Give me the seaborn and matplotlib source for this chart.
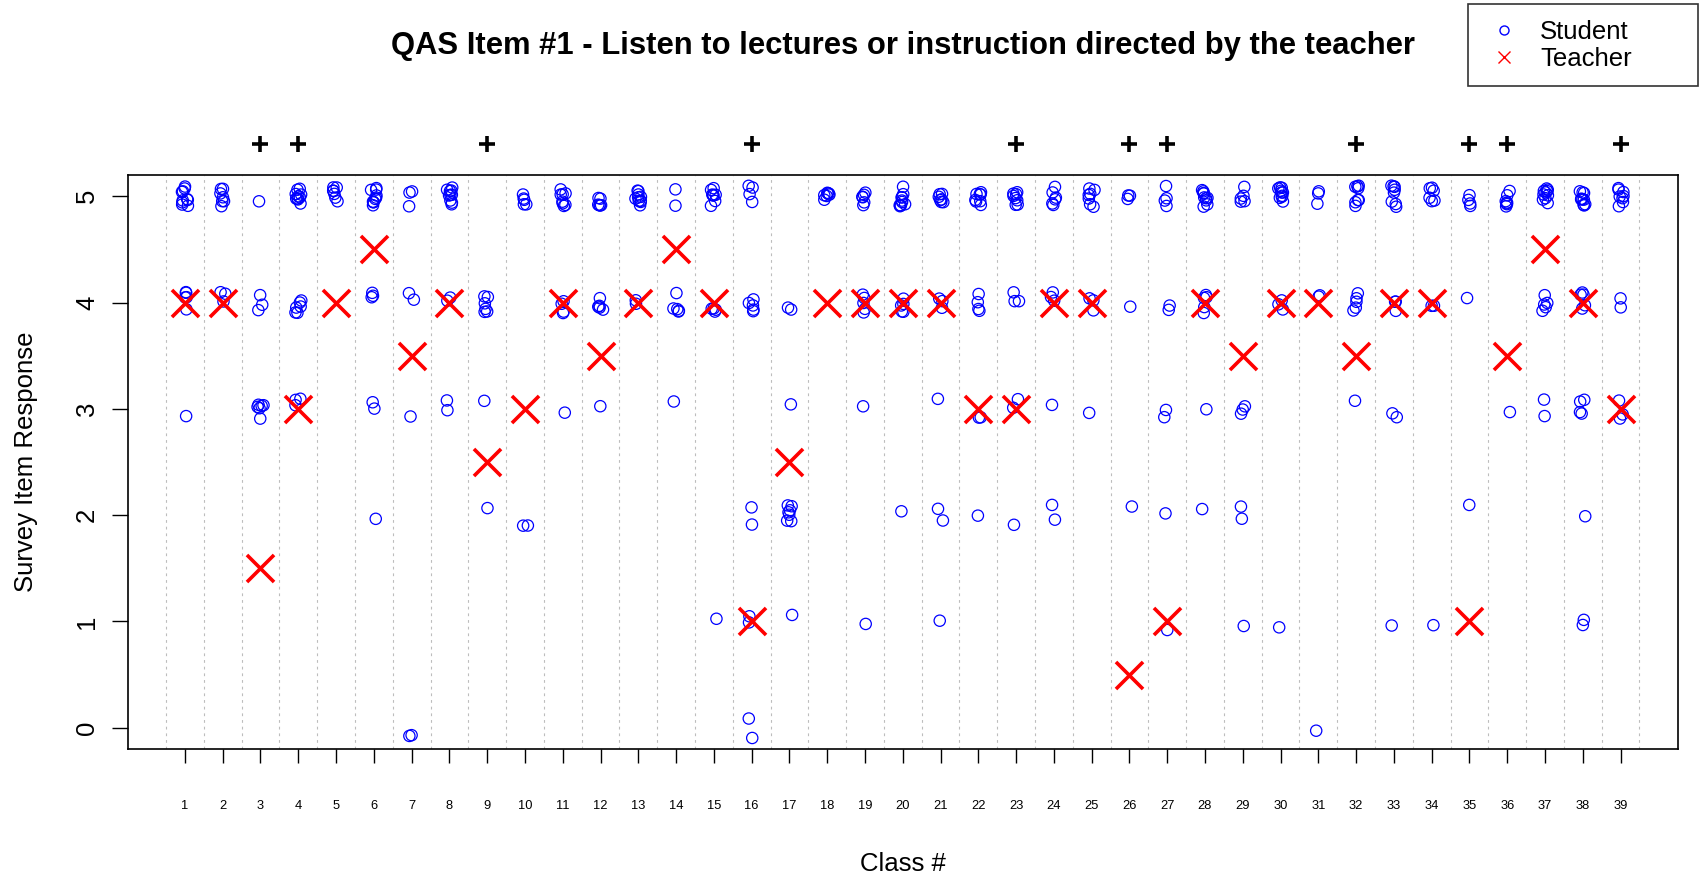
import numpy as np
import pandas as pd
import matplotlib
matplotlib.use("Agg")
import matplotlib.pyplot as plt
from matplotlib.lines import Line2D
import seaborn as sns

# ---- data -------------------------------------------------------------
classes = list(range(1, 40))

# number of students in each class giving each response level (0..5)
resp_0 = [0, 0, 0, 0, 0, 0, 2, 0, 0, 0, 0, 0, 0, 0, 0, 2, 0, 0, 0, 0,
          0, 0, 0, 0, 0, 0, 0, 0, 0, 0, 1, 0, 0, 0, 0, 0, 0, 0, 0]
resp_1 = [0, 0, 0, 0, 0, 0, 0, 0, 0, 0, 0, 0, 0, 0, 1, 2, 1, 0, 1, 0,
          1, 0, 0, 0, 0, 0, 1, 0, 1, 1, 0, 0, 1, 1, 0, 0, 0, 2, 0]
resp_2 = [0, 0, 0, 0, 0, 1, 0, 0, 1, 2, 0, 0, 0, 0, 0, 2, 7, 0, 0, 1,
          2, 1, 1, 2, 0, 1, 1, 1, 2, 0, 0, 0, 0, 0, 1, 0, 0, 1, 0]
resp_3 = [1, 0, 6, 3, 0, 2, 1, 2, 1, 0, 1, 1, 0, 1, 0, 0, 1, 0, 1, 0,
          1, 2, 2, 1, 1, 0, 2, 1, 3, 0, 0, 1, 2, 0, 0, 1, 2, 4, 3]
resp_4 = [5, 3, 3, 6, 0, 3, 2, 2, 6, 0, 4, 5, 2, 5, 4, 5, 2, 0, 5, 5,
          3, 4, 3, 3, 3, 1, 2, 5, 0, 3, 2, 5, 3, 2, 1, 0, 5, 5, 2]
resp_5 = [10, 7, 1, 10, 7, 10, 3, 10, 0, 5, 8, 6, 10, 2, 8, 4, 0, 7, 6, 10,
          7, 8, 8, 6, 7, 3, 4, 10, 5, 10, 3, 8, 8, 6, 4, 7, 10, 10, 8]

# teacher's own rating for each class
teacher_resp = [4, 4, 1.5, 3, 4, 4.5, 3.5, 4, 2.5, 3, 4, 3.5, 4, 4.5, 4, 1, 2.5, 4, 4, 4,
                4, 3, 3, 4, 4, 0.5, 1, 4, 3.5, 4, 4, 3.5, 4, 4, 1, 3.5, 4.5, 4, 3]

# classes marked with "+" above the panel
flagged_classes = [3, 4, 9, 16, 23, 26, 27, 32, 35, 36, 39]

levels = [0, 1, 2, 3, 4, 5]
level_counts = [resp_0, resp_1, resp_2, resp_3, resp_4, resp_5]

# ---- long table of student responses ----------------------------------
rows = []
for lvl, counts in zip(levels, level_counts):
    for cls, n in zip(classes, counts):
        rows.extend([(cls, lvl)] * n)
students = pd.DataFrame(rows, columns=["cls", "response"])

# small jitter so stacked identical answers stay visible
rng = np.random.default_rng(11)
students["x"] = students["cls"] + rng.uniform(-0.08, 0.08, len(students))
students["y"] = students["response"] + rng.uniform(-0.1, 0.1, len(students))

teachers = pd.DataFrame({"cls": classes, "response": teacher_resp})
flags = pd.DataFrame({"cls": flagged_classes})

# ---- figure -------------------------------------------------------------
sns.set_style("white")
plt.rcParams["font.family"] = ["Liberation Sans", "DejaVu Sans"]
plt.rcParams["text.color"] = "black"
plt.rcParams["axes.labelcolor"] = "black"

base = 18.5
fig = plt.figure(figsize=(17.07, 8.75), dpi=100)
ax = fig.add_axes([0.0747, 0.144, 0.9083, 0.656])

# dotted separators between classes
ax.vlines(np.arange(0.5, 40, 1.0), -0.2, 5.2, colors="#bdbdbd",
          linestyles=(0, (2.5, 3.5)), linewidth=0.8, zorder=0.5)

sns.scatterplot(data=students, x="x", y="y", ax=ax, marker="o", s=66,
                facecolors="none", edgecolor="#0000ff", linewidth=0.9,
                zorder=2)
sns.scatterplot(data=teachers, x="cls", y="response", ax=ax, marker="x",
                s=380, color="#ff0000", linewidth=2.6, zorder=3)
sns.scatterplot(x=flags["cls"], y=np.full(len(flags), 5.49), ax=ax,
                marker="+", s=120, color="black", linewidth=2.6,
                clip_on=False, zorder=4)

ax.set_xlim(-0.52, 40.52)
ax.set_ylim(-0.2, 5.2)
ax.set_xticks(classes)
ax.set_xticklabels([str(c) for c in classes], fontsize=base * 0.5)
ax.set_yticks(levels)
ax.set_yticklabels([str(v) for v in levels], fontsize=base, rotation=90)
for lab in ax.get_yticklabels():
    lab.set_va("center")

ax.tick_params(axis="x", direction="out", length=10, width=1.0,
               pad=26.5, colors="black", bottom=True)
ax.tick_params(axis="y", direction="out", length=11.5, width=1.0,
               pad=9, colors="black", left=True)

for side in ["left", "right", "top", "bottom"]:
    ax.spines[side].set_visible(True)
    ax.spines[side].set_color("black")
    ax.spines[side].set_linewidth(1.2)

ax.set_xlabel("Class #", fontsize=base)
ax.set_ylabel("Survey Item Response", fontsize=base)
ax.xaxis.set_label_coords(0.5, -0.2)
ax.xaxis.label.set_va("center")
ax.yaxis.set_label_coords(-0.0655, 0.5)
ax.yaxis.label.set_va("center")

ax.text(0.5, 1.225, "QAS Item #1 - Listen to lectures or instruction directed by the teacher",
        transform=ax.transAxes, ha="center", va="center",
        fontsize=22.3, fontweight="bold", color="black")

handles = [
    Line2D([], [], ls="", marker="o", ms=6.5, mfc="none", mec="#0000ff", mew=1.0),
    Line2D([], [], ls="", marker="x", ms=8, color="#ff0000", mew=1.0),
]
fig.legend(handles, ["Student", "Teacher"],
           loc="upper left",
           bbox_to_anchor=(1467.7 / 1707, 1 - 4 / 875, 230 / 1707, 0),
           bbox_transform=fig.transFigure, mode="expand",
           fontsize=base, frameon=True, fancybox=False,
           edgecolor="#333333", framealpha=1, borderaxespad=0,
           borderpad=0.62, handlelength=1.6, handletextpad=0.6,
           labelspacing=0.1)
fig.legends[0].get_frame().set_linewidth(1.2)

fig.savefig("out.png", dpi=100)
